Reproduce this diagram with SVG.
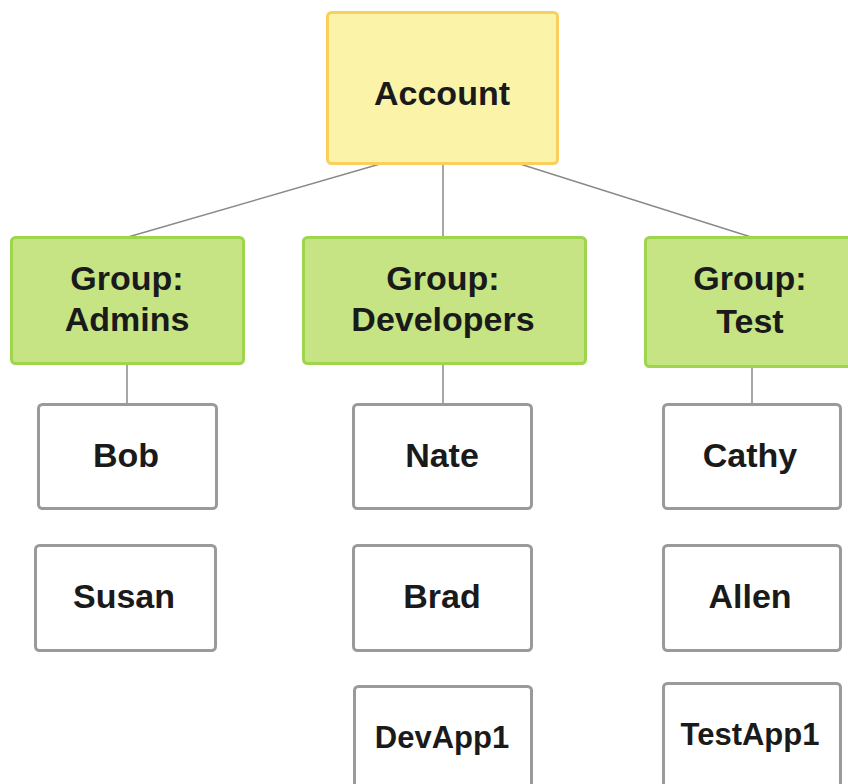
<svg xmlns="http://www.w3.org/2000/svg" width="848" height="784" viewBox="0 0 848 784">
<style>
.acc{fill:#fbf3a8;stroke:#fbcf5e;stroke-width:3}
.grp{fill:#c6e483;stroke:#9fd54d;stroke-width:3}
.usr{fill:#ffffff;stroke:#9a9a9a;stroke-width:3}
.t{font-family:"Liberation Sans",Arial,sans-serif;font-weight:bold;font-size:34px;fill:#1a1a1a;text-anchor:middle}
.s{font-size:31px}
.c line{stroke:#8a8a8a;stroke-width:1.5}
</style>
<rect width="848" height="784" fill="#ffffff"/>
<g class="c" id="connectors">
<line x1="380" y1="164" x2="128" y2="237"/>
<line x1="443" y1="164" x2="443" y2="237"/>
<line x1="520" y1="164" x2="751" y2="237"/>
<line x1="127" y1="364" x2="127" y2="404"/>
<line x1="443" y1="364" x2="443" y2="404"/>
<line x1="752" y1="368" x2="752" y2="404"/>
</g>
<g id="account"><rect class="acc" x="327.5" y="12.5" width="230" height="151" rx="4"/><text class="t" x="442" y="105">Account</text></g>
<g id="admins"><rect class="grp" x="11.5" y="237.5" width="232" height="126" rx="4"/><text class="t" x="127" y="290">Group:</text><text class="t" x="127" y="331">Admins</text></g>
<g id="developers"><rect class="grp" x="303.5" y="237.5" width="282" height="126" rx="4"/><text class="t" x="443" y="290">Group:</text><text class="t" x="443" y="331">Developers</text></g>
<g id="test"><rect class="grp" x="645.5" y="237.5" width="215" height="129" rx="4"/><text class="t" x="750" y="290">Group:</text><text class="t" x="750" y="333">Test</text></g>
<g id="bob"><rect class="usr" x="38.5" y="404.5" width="178" height="104" rx="4"/><text class="t" x="126" y="467">Bob</text></g>
<g id="susan"><rect class="usr" x="35.5" y="545.5" width="180" height="105" rx="4"/><text class="t" x="124" y="608">Susan</text></g>
<g id="nate"><rect class="usr" x="353.5" y="404.5" width="178" height="104" rx="4"/><text class="t" x="442" y="467">Nate</text></g>
<g id="brad"><rect class="usr" x="353.5" y="545.5" width="178" height="105" rx="4"/><text class="t" x="442" y="608">Brad</text></g>
<g id="devapp1"><rect class="usr" x="354.5" y="686.5" width="177" height="110" rx="4"/><text class="t s" x="442" y="748">DevApp1</text></g>
<g id="cathy"><rect class="usr" x="663.5" y="404.5" width="177" height="104" rx="4"/><text class="t" x="750" y="467">Cathy</text></g>
<g id="allen"><rect class="usr" x="663.5" y="545.5" width="177" height="105" rx="4"/><text class="t" x="750" y="608">Allen</text></g>
<g id="testapp1"><rect class="usr" x="663.5" y="683.5" width="177" height="110" rx="4"/><text class="t s" x="750" y="745">TestApp1</text></g>
</svg>
